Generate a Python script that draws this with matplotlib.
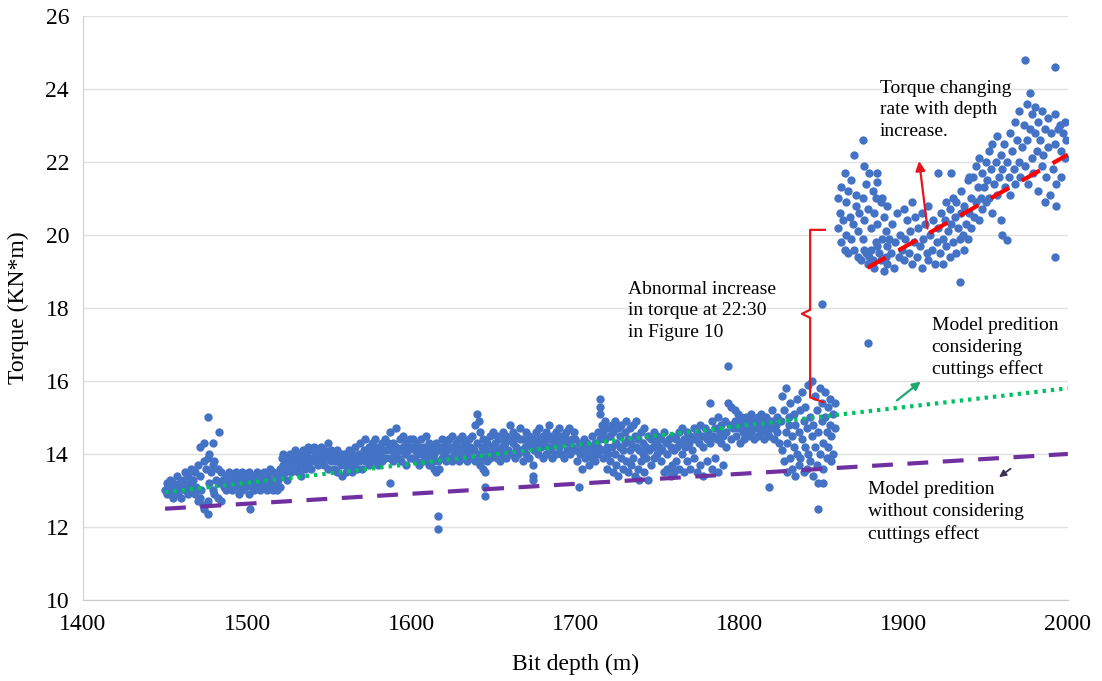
import numpy as np
import matplotlib.pyplot as plt

plt.rcParams['font.family'] = 'Liberation Serif'

# scatter data: (bit depth m, torque kN*m)
band_1450 = [
    (1450, 13.0), (1451, 13.2), (1451, 12.9), (1452, 13.1), (1453, 13.3), (1453, 12.9), (1454, 13.0),
    (1455, 13.2), (1455, 12.8), (1456, 13.1), (1457, 13.4), (1457, 13.0), (1458, 12.9), (1459, 13.2),
    (1460, 13.1), (1460, 12.8), (1461, 13.3), (1462, 13.0), (1462, 13.5), (1463, 13.1), (1464, 12.9),
    (1464, 13.4), (1465, 13.2), (1466, 13.0), (1466, 13.6), (1467, 13.3), (1468, 12.9), (1468, 13.5),
    (1469, 13.1), (1470, 13.7), (1470, 12.7), (1471, 13.4), (1471, 12.8), (1471, 14.2), (1472, 13.0),
    (1474, 14.3), (1473, 12.6), (1474, 13.8), (1474, 12.5), (1476, 15.0), (1476, 12.35), (1475, 13.6),
    (1476, 13.9), (1476, 12.7), (1477, 13.2), (1477, 14.0), (1479, 14.3), (1478, 13.5), (1479, 13.0),
    (1479, 13.7), (1480, 13.8), (1480, 12.9), (1483, 14.6), (1481, 13.3), (1482, 13.6), (1482, 12.8),
    (1483, 13.2), (1484, 13.5), (1484, 12.7), (1485, 13.3), (1486, 13.1),
    (1487, 13.4), (1487, 13.0), (1488, 13.2), (1489, 13.5), (1489, 13.1), (1490, 13.3), (1491, 13.0),
    (1491, 13.4), (1492, 13.2), (1493, 13.5), (1493, 13.1), (1494, 13.3), (1495, 12.9), (1495, 13.4),
    (1496, 13.2), (1497, 13.0), (1497, 13.5), (1498, 13.3), (1499, 13.1), (1499, 13.4), (1500, 13.2),
    (1501, 12.9), (1501, 13.5), (1502, 12.5), (1502, 13.3), (1503, 13.1), (1504, 13.4), (1504, 13.0),
    (1505, 13.2), (1506, 13.5), (1506, 13.1), (1507, 13.3), (1508, 13.0), (1508, 13.4), (1509, 13.2),
    (1510, 13.5), (1510, 13.1), (1511, 13.3), (1512, 13.0), (1512, 13.4), (1513, 13.2), (1514, 13.6),
    (1514, 13.1), (1515, 13.3), (1516, 13.0), (1516, 13.5), (1517, 13.2), (1518, 13.4), (1518, 13.0),
    (1519, 13.3), (1520, 13.1), (1520, 13.6),
]

band_1520 = [
    (1521, 13.4), (1521, 13.9), (1522, 13.7), (1522, 14.0), (1523, 13.5), (1523, 13.8), (1524, 13.3),
    (1524, 13.9), (1525, 13.9), (1525, 13.6), (1526, 14.0), (1527, 13.7), (1527, 13.5), (1528, 13.9),
    (1529, 13.6), (1529, 14.1), (1530, 13.8), (1531, 13.5), (1531, 14.0), (1532, 13.7), (1533, 13.9),
    (1533, 13.4), (1534, 14.1), (1535, 13.8), (1535, 13.6),
    (1536, 14.0), (1537, 13.7), (1537, 14.2), (1538, 13.9), (1539, 14.1), (1539, 13.6), (1540, 13.9),
    (1541, 14.2), (1541, 13.8), (1542, 14.0), (1543, 13.7), (1543, 14.1), (1544, 13.9), (1545, 14.2),
    (1545, 13.8), (1546, 14.0), (1547, 13.7), (1547, 14.1), (1548, 13.9), (1549, 14.3), (1549, 13.6),
    (1550, 14.0), (1551, 13.8), (1551, 14.1), (1552, 13.9), (1553, 13.6), (1553, 14.0), (1554, 13.8),
    (1555, 14.1), (1555, 13.5), (1556, 13.9), (1557, 13.7), (1557, 14.0), (1558, 13.4), (1558, 13.8),
    (1559, 14.0), (1560, 13.7), (1560, 13.5),
    (1561, 13.9), (1562, 13.6), (1562, 14.1), (1563, 13.8), (1564, 13.5), (1564, 14.0), (1565, 13.7),
    (1566, 14.2), (1566, 13.9), (1567, 13.6), (1568, 14.0), (1568, 13.8), (1569, 14.3), (1570, 13.9),
    (1570, 13.6), (1571, 14.1), (1572, 13.8), (1572, 14.4), (1573, 14.0), (1574, 13.7), (1574, 14.2),
    (1575, 13.9), (1576, 14.3), (1576, 14.0), (1577, 13.8), (1578, 14.1), (1578, 14.4), (1579, 13.9),
    (1580, 14.2), (1580, 13.7), (1581, 14.0), (1582, 14.3), (1582, 13.8), (1583, 14.1), (1584, 14.4),
    (1584, 13.9), (1587, 13.2), (1585, 14.1), (1586, 14.3), (1587, 13.9), (1587, 14.6), (1588, 14.1),
    (1589, 13.8), (1589, 14.3), (1590, 14.0), (1591, 14.7), (1591, 14.2), (1592, 13.9), (1593, 14.4),
    (1593, 14.1), (1594, 13.8), (1595, 14.2), (1595, 14.5), (1596, 14.0), (1597, 13.7), (1597, 14.3),
    (1598, 14.1), (1599, 13.9), (1599, 14.4), (1600, 14.2),
]

band_1600 = [
    (1601, 13.9), (1601, 14.4), (1602, 14.1), (1603, 13.8), (1603, 14.3), (1604, 14.0), (1605, 14.2),
    (1605, 13.7), (1606, 14.4), (1607, 14.0), (1607, 13.8), (1608, 14.2), (1609, 13.9), (1609, 14.5),
    (1610, 14.1), (1611, 13.7), (1611, 14.3), (1612, 14.0), (1613, 13.8), (1613, 14.2), (1614, 13.6),
    (1614, 14.0), (1615, 13.5), (1615, 14.3), (1616, 12.3), (1616, 11.95), (1616, 13.8), (1617, 14.1),
    (1617, 13.6), (1618, 14.2), (1619, 13.9), (1619, 14.4), (1620, 14.0), (1621, 13.8), (1621, 14.3),
    (1622, 14.1), (1623, 13.9), (1623, 14.4), (1624, 14.2), (1625, 13.8), (1625, 14.5), (1626, 14.0),
    (1627, 14.3), (1627, 13.9), (1628, 14.1), (1629, 14.4), (1629, 13.8), (1630, 14.2), (1631, 14.0),
    (1631, 14.5), (1632, 13.9), (1633, 14.3), (1633, 14.1), (1634, 13.8), (1635, 14.4), (1635, 14.0),
    (1636, 14.2), (1637, 13.9), (1637, 14.5), (1638, 14.1), (1639, 14.8), (1639, 13.8), (1640, 15.1),
    (1640, 14.3), (1641, 14.9), (1641, 14.0), (1642, 14.6), (1642, 13.7), (1643, 14.2), (1643, 13.9),
    (1644, 14.4), (1644, 13.6), (1645, 13.5), (1645, 13.1), (1645, 12.85), (1645, 14.1), (1646, 14.3),
    (1646, 13.8), (1647, 14.0), (1648, 14.5), (1648, 13.9), (1649, 14.2), (1650, 14.0), (1650, 14.6),
    (1651, 14.3), (1652, 13.9), (1652, 14.5), (1653, 14.1), (1654, 14.4), (1654, 13.8), (1655, 14.2),
    (1656, 14.6), (1656, 14.0), (1657, 14.3), (1658, 13.9), (1658, 14.5), (1659, 14.1), (1660, 14.4),
    (1660, 14.8), (1661, 14.0), (1662, 14.3), (1662, 14.6), (1663, 13.9), (1664, 14.2), (1664, 14.5),
    (1665, 14.0), (1666, 14.4), (1666, 14.7), (1667, 14.1), (1668, 13.8), (1668, 14.4), (1669, 14.2),
    (1670, 14.6), (1670, 14.0), (1671, 14.3), (1672, 13.9), (1672, 14.5), (1673, 14.2), (1674, 13.7),
    (1674, 13.4), (1674, 13.3), (1674, 14.4), (1675, 14.1), (1676, 14.6), (1676, 14.3), (1677, 14.0),
    (1678, 14.4), (1678, 14.7), (1679, 14.2), (1680, 13.9), (1680, 14.5), (1681, 14.3), (1682, 14.0),
    (1682, 14.6), (1683, 14.2), (1684, 14.8), (1684, 14.4), (1685, 14.1), (1686, 14.5), (1686, 13.9),
    (1687, 14.3), (1688, 14.6), (1688, 14.0), (1689, 14.4), (1690, 14.2), (1690, 14.7), (1691, 14.0),
    (1692, 14.5), (1692, 14.3), (1693, 13.9), (1694, 14.4), (1694, 14.6), (1695, 14.1), (1696, 14.3),
    (1696, 14.7), (1697, 14.0), (1698, 14.4), (1698, 14.2), (1699, 14.6), (1700, 14.1), (1700, 14.4),
]

band_1700 = [
    (1701, 13.8), (1702, 13.1), (1702, 14.3), (1703, 14.0), (1704, 14.2), (1704, 13.6), (1705, 14.4),
    (1706, 13.9), (1706, 14.1), (1707, 14.3), (1708, 13.7), (1708, 14.0), (1709, 14.2), (1710, 13.9),
    (1710, 14.5), (1711, 14.1), (1712, 13.8), (1712, 14.3), (1713, 14.0), (1714, 14.6), (1714, 14.2),
    (1715, 15.5), (1715, 15.3), (1715, 15.1), (1715, 14.4), (1716, 14.8), (1716, 14.1), (1717, 14.6),
    (1717, 13.9), (1718, 14.4), (1718, 14.9), (1719, 14.2), (1719, 13.6), (1720, 14.7), (1720, 14.0),
    (1721, 14.5), (1721, 13.8), (1722, 14.8), (1722, 14.2), (1723, 13.5), (1723, 14.6), (1724, 14.0),
    (1724, 14.9), (1725, 14.3), (1725, 13.7), (1726, 14.7), (1726, 13.4), (1727, 14.2), (1727, 14.5),
    (1728, 13.9), (1728, 14.8), (1729, 14.1), (1729, 13.6), (1730, 14.6), (1730, 14.3), (1731, 13.8),
    (1731, 14.9), (1732, 14.4), (1732, 13.5), (1733, 14.1), (1733, 14.7), (1734, 13.7), (1734, 14.3),
    (1735, 14.8), (1735, 13.9), (1736, 14.5), (1736, 13.4), (1737, 14.2), (1737, 14.9), (1738, 13.6),
    (1738, 14.4), (1739, 14.1), (1739, 13.3), (1740, 14.6), (1740, 13.8), (1741, 14.3), (1741, 14.0),
    (1742, 13.5), (1742, 14.7), (1743, 14.2), (1743, 13.9), (1744, 14.5), (1744, 13.3), (1745, 14.1),
    (1746, 14.4), (1746, 13.7), (1747, 14.2), (1748, 14.6), (1748, 13.9), (1749, 14.3), (1750, 14.0),
    (1750, 14.5), (1751, 14.2), (1752, 13.8), (1752, 14.4), (1753, 14.1), (1754, 13.5), (1754, 14.6),
    (1755, 14.3), (1756, 13.6), (1756, 14.0), (1757, 14.4), (1758, 13.4), (1758, 14.2), (1759, 13.7),
    (1759, 14.5), (1760, 14.1), (1760, 13.5),
    (1761, 14.4), (1761, 13.8), (1762, 14.2), (1763, 14.6), (1763, 13.6), (1764, 14.3), (1765, 14.0),
    (1765, 14.7), (1766, 13.5), (1766, 14.4), (1767, 14.2), (1768, 13.8), (1768, 14.6), (1769, 14.3),
    (1770, 13.6), (1770, 14.5), (1771, 14.1), (1772, 14.7), (1772, 13.9), (1773, 14.4), (1774, 13.5),
    (1774, 14.6), (1775, 14.3), (1776, 14.8), (1776, 13.7), (1777, 14.5), (1778, 14.2), (1778, 13.4),
    (1779, 14.7), (1780, 14.4), (1780, 13.8), (1781, 14.6), (1782, 15.4), (1782, 14.3), (1783, 14.9),
    (1783, 13.6), (1784, 14.5), (1785, 14.7), (1785, 13.9), (1786, 14.4), (1787, 15.0), (1787, 13.5),
    (1788, 14.6), (1789, 14.3), (1789, 14.8), (1790, 13.7), (1790, 14.5),
]

band_1790 = [
    (1791, 14.9), (1792, 14.2), (1792, 14.6), (1793, 16.4), (1793, 15.4), (1794, 14.8), (1795, 15.3),
    (1795, 14.4), (1796, 14.7), (1797, 15.2), (1797, 14.9), (1798, 14.5), (1799, 15.1), (1799, 14.7),
    (1800, 14.3), (1801, 14.9), (1801, 15.0), (1802, 14.6), (1803, 14.8), (1803, 14.4), (1804, 15.0),
    (1805, 14.7), (1805, 14.5), (1806, 14.9), (1807, 14.6), (1807, 15.1), (1808, 14.8), (1809, 14.4),
    (1809, 14.9), (1810, 14.7), (1811, 15.0), (1811, 14.5), (1812, 14.8), (1813, 14.6), (1813, 15.1),
    (1814, 14.9), (1815, 14.4), (1815, 14.7), (1816, 15.0), (1817, 14.6), (1817, 14.8), (1818, 13.1),
    (1818, 14.5), (1819, 14.9), (1820, 14.7), (1820, 15.2), (1821, 14.4), (1822, 14.8), (1823, 15.0),
    (1823, 14.6), (1824, 14.3), (1825, 14.9),
    (1826, 15.6), (1826, 14.1), (1827, 15.2), (1827, 13.8), (1828, 14.6), (1828, 15.8), (1829, 14.3),
    (1829, 13.5), (1830, 15.0), (1830, 14.8), (1831, 13.9), (1831, 15.4), (1832, 14.5), (1832, 13.6),
    (1833, 15.1), (1833, 14.2), (1834, 13.4), (1834, 14.8), (1835, 15.5), (1835, 14.0), (1836, 13.7),
    (1836, 14.6), (1837, 15.2), (1837, 13.9), (1838, 14.4), (1838, 15.7), (1839, 13.5), (1839, 14.9),
    (1840, 14.2), (1840, 15.3), (1841, 13.6), (1841, 14.7), (1842, 15.9), (1842, 14.0), (1843, 13.8),
    (1843, 15.0), (1844, 14.5), (1844, 16.0), (1845, 13.4), (1845, 14.8), (1846, 15.6), (1846, 14.2),
    (1848, 12.5), (1847, 13.7), (1847, 15.2), (1848, 14.6), (1848, 13.2), (1850, 18.1), (1849, 15.8),
    (1849, 14.0), (1851, 13.2), (1850, 14.9), (1850, 15.4), (1851, 14.3), (1851, 13.6), (1852, 15.0),
    (1852, 15.7), (1853, 14.6), (1853, 13.9), (1854, 15.3), (1854, 14.2), (1855, 15.5), (1855, 14.8),
    (1856, 14.5), (1856, 13.8), (1857, 15.1), (1857, 14.0), (1858, 15.4), (1858, 14.7), (1878, 17.05),
]

cloud_1860 = [
    (1860, 20.2), (1860, 21.0), (1861, 20.6), (1862, 19.8), (1862, 21.3), (1863, 20.4), (1864, 19.6),
    (1864, 21.7), (1865, 20.0), (1865, 20.9), (1866, 21.2), (1866, 19.5), (1867, 20.5), (1868, 19.9),
    (1868, 21.5), (1869, 20.3), (1870, 22.2), (1870, 19.6), (1871, 20.8), (1871, 21.1), (1872, 19.4),
    (1872, 20.1), (1873, 20.6), (1875, 22.6), (1874, 19.3), (1875, 21.0), (1875, 19.9), (1876, 20.4),
    (1876, 21.9), (1877, 21.4), (1877, 19.5), (1878, 20.7), (1878, 19.2), (1879, 21.7), (1880, 20.2),
    (1880, 19.6), (1881, 21.2), (1881, 19.3), (1882, 20.6), (1883, 21.0), (1883, 19.8), (1884, 20.3),
    (1884, 21.7), (1884, 21.45), (1885, 19.5), (1886, 20.9), (1887, 19.9), (1887, 21.0), (1888, 20.5),
    (1889, 19.4), (1889, 20.1), (1890, 19.7), (1890, 20.8),
    (1876, 19.6), (1879, 19.4), (1882, 19.1), (1884, 19.7), (1886, 19.3), (1888, 19.0), (1890, 19.2),
    (1891, 19.9), (1892, 19.5), (1893, 20.3), (1894, 19.1), (1895, 19.8), (1896, 20.6), (1897, 19.4),
    (1898, 20.0), (1899, 19.6), (1900, 20.7), (1900, 19.3), (1901, 19.9), (1902, 20.4), (1903, 19.5),
    (1904, 20.1), (1905, 20.9), (1905, 19.2), (1906, 19.8), (1907, 20.5), (1908, 19.4), (1909, 20.2),
    (1910, 19.7), (1911, 20.6), (1911, 19.1), (1912, 19.9), (1913, 20.3), (1914, 19.5), (1915, 20.8),
    (1915, 19.3), (1916, 20.0), (1917, 19.6), (1918, 20.4), (1919, 19.2), (1920, 19.8), (1921, 21.7),
    (1921, 20.2), (1922, 19.5), (1923, 20.6), (1924, 19.9), (1924, 19.2), (1925, 20.4), (1926, 19.7),
    (1926, 20.9), (1927, 20.1), (1928, 19.4), (1928, 20.7), (1929, 21.7), (1929, 20.3), (1930, 19.8),
    (1930, 21.0), (1931, 20.5), (1932, 19.5), (1932, 20.9), (1933, 20.2), (1934, 18.7), (1934, 19.9),
    (1935, 20.6), (1935, 21.2), (1936, 20.0), (1937, 19.6), (1937, 20.8), (1938, 20.3), (1939, 21.5),
    (1939, 19.9), (1940, 20.6), (1940, 21.6), (1941, 21.0), (1941, 20.2), (1942, 21.6), (1943, 20.5),
    (1944, 20.9), (1944, 21.9), (1945, 21.3), (1946, 20.4), (1946, 22.1), (1947, 21.0), (1948, 21.7),
    (1948, 20.7), (1949, 21.3), (1950, 22.0), (1950, 20.9), (1951, 21.5), (1952, 22.3), (1952, 21.0),
    (1953, 21.8), (1954, 20.6), (1954, 22.5), (1955, 21.4), (1956, 22.0), (1957, 21.1), (1957, 22.7),
    (1958, 21.6), (1959, 20.4), (1959, 22.2), (1960, 21.8), (1960, 20.0), (1961, 22.5), (1962, 21.3),
    (1963, 19.85), (1963, 22.0), (1964, 21.6), (1965, 22.8), (1965, 21.1), (1966, 22.3), (1967, 21.8),
    (1968, 23.1), (1968, 21.4), (1969, 22.6), (1970, 22.0), (1970, 23.4), (1971, 21.6), (1974, 24.8),
    (1972, 22.4), (1973, 23.0), (1974, 21.9), (1975, 23.6), (1975, 22.6), (1977, 23.9), (1976, 21.4),
    (1977, 22.9), (1978, 23.3), (1978, 22.1), (1979, 21.7), (1980, 22.8), (1980, 23.5), (1981, 22.3),
    (1982, 21.2), (1982, 23.1), (1983, 22.6), (1984, 21.9), (1984, 23.4), (1985, 22.2), (1986, 20.9),
    (1986, 22.9), (1987, 21.6), (1988, 23.2), (1988, 22.4), (1989, 21.1), (1990, 22.8), (1992, 19.4),
    (1992, 24.6), (1991, 21.8), (1992, 23.3), (1992, 22.5), (1993, 21.4), (1994, 22.9), (1993, 20.8),
    (1995, 23.0), (1996, 22.3), (1996, 21.6), (1997, 22.8), (1998, 22.1), (1998, 23.1), (1999, 22.6),
]

# model lines (end points)
model_cut_x = [1450, 2000]
model_cut_y = [12.95, 15.8]
model_nocut_x = [1450, 2000]
model_nocut_y = [12.5, 14.0]
rate_x = [1878, 2000]
rate_y = [19.1, 22.2]

pts = np.array(band_1450 + band_1520 + band_1600 + band_1700 + band_1790 + cloud_1860)
depth = pts[:, 0]
torque = pts[:, 1]

fig = plt.figure(figsize=(11.02, 6.81), dpi=100)
ax = fig.add_axes([0.0753, 0.119, 0.8937, 0.8576])

ax.scatter(depth, torque, s=36, color='#4472C4', linewidths=0, zorder=3)
ax.plot(model_cut_x, model_cut_y, color='#00C060', lw=3, linestyle=(0, (0.8, 1.2)), zorder=4)
ax.plot(model_nocut_x, model_nocut_y, color='#7030A0', lw=3, linestyle=(0, (5, 3.5)), zorder=4)
ax.plot(rate_x, rate_y, color='#FF0000', lw=3, linestyle=(0, (5, 3.5)), zorder=4)

ax.set_xlim(1400, 2000)
ax.set_ylim(10, 26)
ax.set_xticks(np.arange(1400, 2001, 100))
ax.set_yticks(np.arange(10, 27, 2))
ax.tick_params(length=0, labelsize=17, pad=10)
ax.grid(axis='y', color='#E0E0E0', lw=1)
ax.set_axisbelow(True)
for s in ['top', 'right']:
    ax.spines[s].set_visible(False)
ax.spines['left'].set_color('#D0D0D0')
ax.spines['bottom'].set_color('#C8C8C8')
ax.set_xlabel('Bit depth (m)', fontsize=17, labelpad=14)
ax.set_ylabel('Torque (KN*m)', fontsize=17, labelpad=12)

# bracket for the abnormal increase
bx = [1852, 1843, 1843, 1838, 1843, 1843, 1851]
by = [20.14, 20.14, 17.95, 17.84, 17.73, 15.55, 15.42]
ax.plot(bx, by, color='#E8141C', lw=1.6, zorder=5)

ax.text(1732, 18.75, 'Abnormal increase\nin torque at 22:30\nin Figure 10',
        fontsize=14, va='top', ha='left', linespacing=1.35)
ax.text(1885.5, 24.25, 'Torque changing\nrate with depth\nincrease.',
        fontsize=14, va='top', ha='left', linespacing=1.35, zorder=6)
ax.text(1917, 17.75, 'Model predition\nconsidering\ncuttings effect',
        fontsize=14, va='top', ha='left', linespacing=1.35)
ax.text(1878, 13.25, 'Model predition\nwithout considering\ncuttings effect',
        fontsize=14, va='top', ha='left', linespacing=1.35)

ax.annotate('', xy=(1909.2, 22.1), xytext=(1914.7, 20.1),
            arrowprops=dict(arrowstyle='-|>', color='#E8141C', lw=1.6, mutation_scale=14), zorder=6)
ax.annotate('', xy=(1911.7, 16.03), xytext=(1894.6, 15.42),
            arrowprops=dict(arrowstyle='-|>', color='#1FA870', lw=1.6, mutation_scale=12))
ax.annotate('', xy=(1956.7, 13.32), xytext=(1966.5, 13.64),
            arrowprops=dict(arrowstyle='-|>', color='#3D3355', lw=1.3, mutation_scale=10))

plt.savefig('out.png', dpi=100)
